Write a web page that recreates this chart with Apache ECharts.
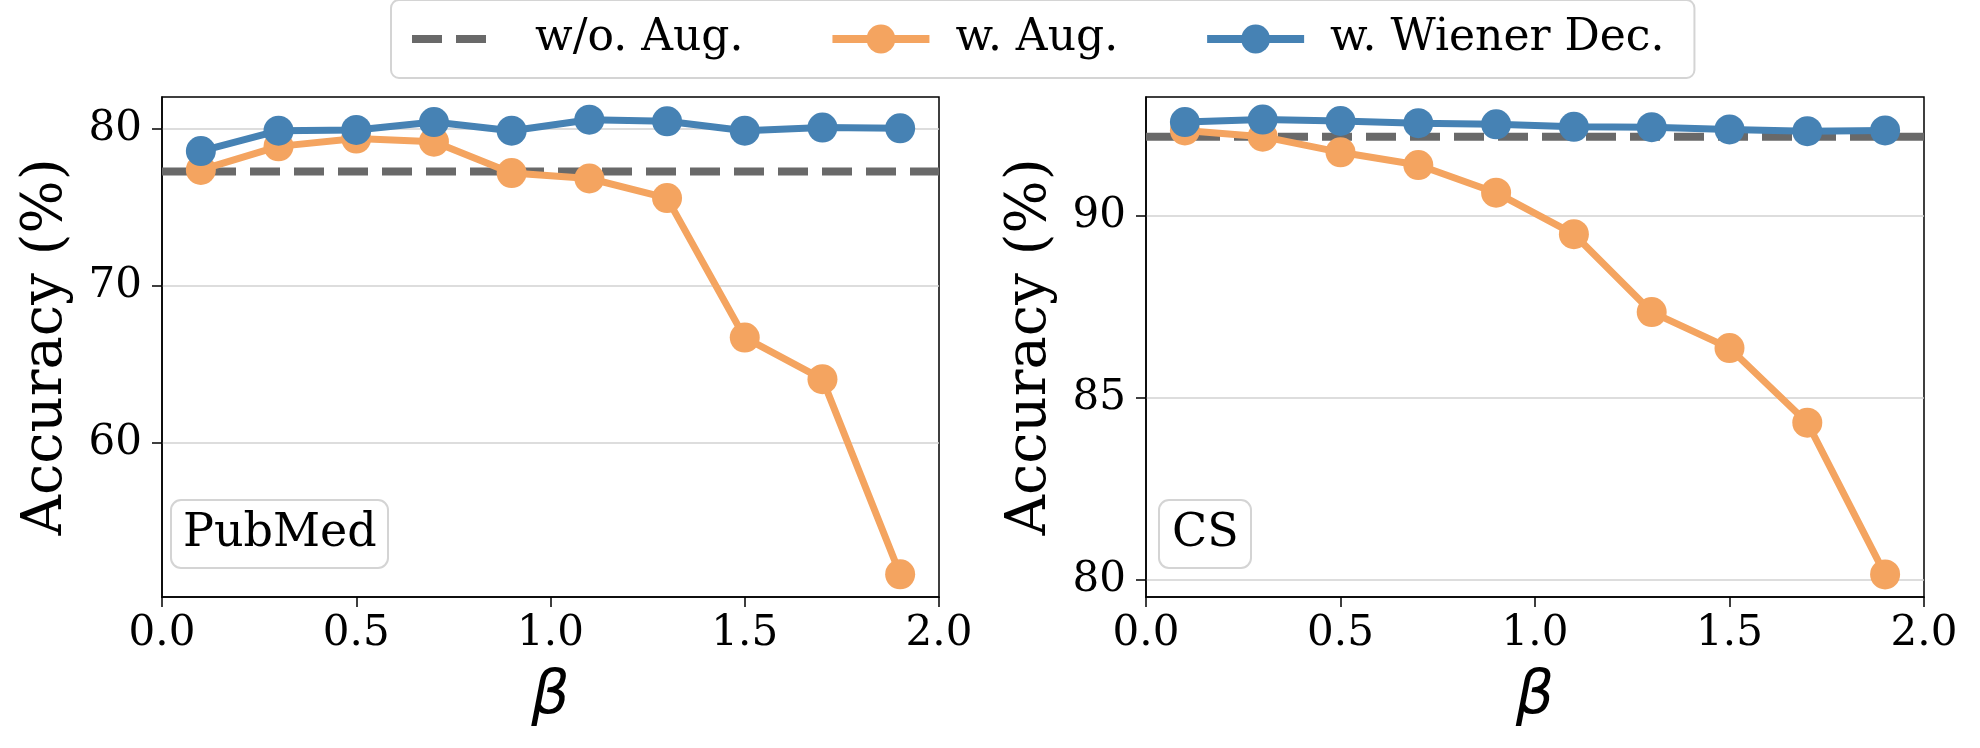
<!DOCTYPE html>
<html>
<head>
<meta charset="utf-8">
<script src="https://cdn.jsdelivr.net/npm/echarts@6/dist/echarts.min.js"></script>
<style>
html,body{margin:0;padding:0;background:#fff;}
#chart{width:1980px;height:748px;}
</style>
</head>
<body>
<div id="chart"></div>
<script>
// ---- data ----
const betas = [0.1, 0.3, 0.5, 0.7, 0.9, 1.1, 1.3, 1.5, 1.7, 1.9];
const pubmedAug = [77.4, 78.9, 79.4, 79.2, 77.2, 76.85, 75.6, 66.7, 64.05, 51.6];
const pubmedWiener = [78.6, 79.9, 79.95, 80.45, 79.9, 80.6, 80.5, 79.9, 80.1, 80.05];
const pubmedBase = 77.3;
const csAug = [92.35, 92.18, 91.75, 91.4, 90.64, 89.5, 87.36, 86.37, 84.32, 80.15];
const csWiener = [92.58, 92.65, 92.61, 92.55, 92.52, 92.45, 92.44, 92.38, 92.33, 92.35];
const csBase = 92.18;
const xTicks = [0.0, 0.5, 1.0, 1.5, 2.0];
const pubmedYTicks = [60, 70, 80];
const csYTicks = [80, 85, 90];
const seriesNames = ['w/o. Aug.', 'w. Aug.', 'w. Wiener Dec.'];
const panelNames = ['PubMed', 'CS'];

// ---- styling ----
const ORANGE = '#F4A460', BLUE = '#4682B4', GRAY = '#696969';
const SERIF = 'DejaVu Serif';
const pair = (xs, ys) => xs.map((x, i) => [x, ys[i]]);

function xAxis(idx) {
  return {
    type: 'value', gridIndex: idx, min: 0, max: 2, interval: 0.5,
    name: 'β', nameLocation: 'middle', nameGap: 70,
    nameTextStyle: {fontFamily: 'DejaVu Sans', fontStyle: 'italic', fontSize: 60, color: '#000'},
    axisLine: {show: true, onZero: false, lineStyle: {color: '#000', width: 1.5}},
    axisTick: {show: true, length: 10, lineStyle: {color: '#000', width: 1.5}, customValues: xTicks},
    axisLabel: {fontFamily: SERIF, fontSize: 42, color: '#000', margin: 16,
      customValues: xTicks, formatter: v => v.toFixed(1)},
    splitLine: {show: false}
  };
}
function yAxis(idx, min, max, ticks) {
  return {
    type: 'value', gridIndex: idx, min: min, max: max,
    name: 'Accuracy (%)', nameLocation: 'middle', nameGap: 88, nameRotate: 90,
    nameTextStyle: {fontFamily: SERIF, fontSize: 56, color: '#000'},
    axisLine: {show: true, onZero: false, lineStyle: {color: '#000', width: 1.5}},
    axisTick: {show: true, length: 10, lineStyle: {color: '#000', width: 1.5}, customValues: ticks},
    axisLabel: {fontFamily: SERIF, fontSize: 42, color: '#000', margin: 20, customValues: ticks},
    splitLine: {show: true, lineStyle: {color: '#d2d2d2', width: 1.5}}
  };
}
function baseSeries(idx, v) {
  return {name: seriesNames[0], type: 'line', xAxisIndex: idx, yAxisIndex: idx,
    data: [[0, v], [2, v]], symbol: 'none', z: 2, silent: true,
    lineStyle: {color: GRAY, width: 8, type: [30, 14]}, itemStyle: {color: GRAY}};
}
function markSeries(idx, name, ys, color, z) {
  return {name: name, type: 'line', xAxisIndex: idx, yAxisIndex: idx,
    data: pair(betas, ys), symbol: 'circle', symbolSize: 30, z: z,
    lineStyle: {color: color, width: 7}, itemStyle: {color: color}};
}

const chart = echarts.init(document.getElementById('chart'), null, {renderer: 'canvas'});
chart.setOption({
  animation: false,
  backgroundColor: '#fff',
  legend: {
    data: [
      {name: seriesNames[0], itemStyle: {opacity: 0}, lineStyle: {width: 8, color: GRAY, type: [30, 14, 30, 40]}},
      {name: seriesNames[1], lineStyle: {width: 8, color: ORANGE}},
      {name: seriesNames[2], lineStyle: {width: 8, color: BLUE}}
    ],
    left: 391, top: 0,
    itemWidth: 97, itemHeight: 36, itemGap: 85,
    padding: [17, 30, 17, 17],
    borderColor: '#d4d4d4', borderWidth: 2, borderRadius: 8,
    textStyle: {fontFamily: SERIF, fontSize: 44, color: '#000', padding: [0, 0, 0, 21]}
  },
  title: [
    {text: panelNames[0], left: 171, top: 500, padding: [11, 11, 11, 12],
     borderColor: '#d4d4d4', borderWidth: 2, borderRadius: 10,
     textStyle: {fontFamily: SERIF, fontSize: 46, fontWeight: 'normal', color: '#000'}},
    {text: panelNames[1], left: 1159, top: 500, padding: [11, 13, 11, 13],
     borderColor: '#d4d4d4', borderWidth: 2, borderRadius: 10,
     textStyle: {fontFamily: SERIF, fontSize: 46, fontWeight: 'normal', color: '#000'}}
  ],
  grid: [
    {left: 162, right: 1041, top: 97, bottom: 151, show: true, borderColor: '#000', borderWidth: 1.5, containLabel: false},
    {left: 1146, right: 56, top: 97, bottom: 151, show: true, borderColor: '#000', borderWidth: 1.5, containLabel: false}
  ],
  xAxis: [xAxis(0), xAxis(1)],
  yAxis: [yAxis(0, 50.15, 82.05, pubmedYTicks), yAxis(1, 79.53, 93.27, csYTicks)],
  series: [
    baseSeries(0, pubmedBase),
    markSeries(0, seriesNames[1], pubmedAug, ORANGE, 3),
    markSeries(0, seriesNames[2], pubmedWiener, BLUE, 4),
    baseSeries(1, csBase),
    markSeries(1, seriesNames[1], csAug, ORANGE, 3),
    markSeries(1, seriesNames[2], csWiener, BLUE, 4)
  ]
});
</script>
</body>
</html>
